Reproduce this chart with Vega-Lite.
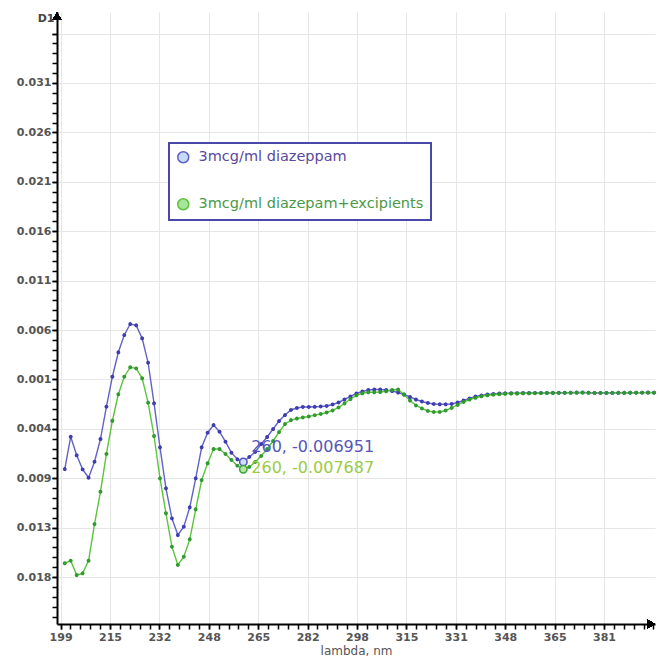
{
"$schema": "https://vega.github.io/schema/vega-lite/v6.json",
"width": 598,
"height": 612,
"autosize": {"type": "none"},
"padding": {"left": 57, "top": 12, "right": 6, "bottom": 37},
"background": "white",
"config": {"view": {"stroke": null}, "font": "DejaVu Sans"},
"datasets": {
"notes": [
{"lambda": 260, "D1": -0.006951, "series": "3mcg/ml diazeppam", "label": "260, -0.006951"},
{"lambda": 260, "D1": -0.007687, "series": "3mcg/ml diazepam+excipients", "label": "260, -0.007687"}
],
"spectra": [
{"lambda":200,"D1":-0.00766,"series":"3mcg/ml diazeppam"},
{"lambda":202,"D1":-0.00442,"series":"3mcg/ml diazeppam"},
{"lambda":204,"D1":-0.00628,"series":"3mcg/ml diazeppam"},
{"lambda":206,"D1":-0.00769,"series":"3mcg/ml diazeppam"},
{"lambda":208,"D1":-0.00853,"series":"3mcg/ml diazeppam"},
{"lambda":210,"D1":-0.00692,"series":"3mcg/ml diazeppam"},
{"lambda":212,"D1":-0.00465,"series":"3mcg/ml diazeppam"},
{"lambda":214,"D1":-0.00141,"series":"3mcg/ml diazeppam"},
{"lambda":216,"D1":0.00159,"series":"3mcg/ml diazeppam"},
{"lambda":218,"D1":0.00404,"series":"3mcg/ml diazeppam"},
{"lambda":220,"D1":0.00577,"series":"3mcg/ml diazeppam"},
{"lambda":222,"D1":0.00687,"series":"3mcg/ml diazeppam"},
{"lambda":224,"D1":0.00674,"series":"3mcg/ml diazeppam"},
{"lambda":226,"D1":0.00544,"series":"3mcg/ml diazeppam"},
{"lambda":228,"D1":0.00300,"series":"3mcg/ml diazeppam"},
{"lambda":230,"D1":-0.00107,"series":"3mcg/ml diazeppam"},
{"lambda":232,"D1":-0.00548,"series":"3mcg/ml diazeppam"},
{"lambda":234,"D1":-0.00959,"series":"3mcg/ml diazeppam"},
{"lambda":236,"D1":-0.01260,"series":"3mcg/ml diazeppam"},
{"lambda":238,"D1":-0.01427,"series":"3mcg/ml diazeppam"},
{"lambda":240,"D1":-0.01344,"series":"3mcg/ml diazeppam"},
{"lambda":242,"D1":-0.01149,"series":"3mcg/ml diazeppam"},
{"lambda":244,"D1":-0.00859,"series":"3mcg/ml diazeppam"},
{"lambda":246,"D1":-0.00548,"series":"3mcg/ml diazeppam"},
{"lambda":248,"D1":-0.00402,"series":"3mcg/ml diazeppam"},
{"lambda":250,"D1":-0.00325,"series":"3mcg/ml diazeppam"},
{"lambda":252,"D1":-0.00392,"series":"3mcg/ml diazeppam"},
{"lambda":254,"D1":-0.00492,"series":"3mcg/ml diazeppam"},
{"lambda":256,"D1":-0.00602,"series":"3mcg/ml diazeppam"},
{"lambda":258,"D1":-0.00668,"series":"3mcg/ml diazeppam"},
{"lambda":260,"D1":-0.006951,"series":"3mcg/ml diazeppam"},
{"lambda":262,"D1":-0.00645,"series":"3mcg/ml diazeppam"},
{"lambda":264,"D1":-0.00595,"series":"3mcg/ml diazeppam"},
{"lambda":266,"D1":-0.00515,"series":"3mcg/ml diazeppam"},
{"lambda":268,"D1":-0.00445,"series":"3mcg/ml diazeppam"},
{"lambda":270,"D1":-0.00365,"series":"3mcg/ml diazeppam"},
{"lambda":272,"D1":-0.00285,"series":"3mcg/ml diazeppam"},
{"lambda":274,"D1":-0.00225,"series":"3mcg/ml diazeppam"},
{"lambda":276,"D1":-0.00174,"series":"3mcg/ml diazeppam"},
{"lambda":278,"D1":-0.00154,"series":"3mcg/ml diazeppam"},
{"lambda":280,"D1":-0.00144,"series":"3mcg/ml diazeppam"},
{"lambda":282,"D1":-0.00144,"series":"3mcg/ml diazeppam"},
{"lambda":284,"D1":-0.00142,"series":"3mcg/ml diazeppam"},
{"lambda":286,"D1":-0.00139,"series":"3mcg/ml diazeppam"},
{"lambda":288,"D1":-0.00134,"series":"3mcg/ml diazeppam"},
{"lambda":290,"D1":-0.00119,"series":"3mcg/ml diazeppam"},
{"lambda":292,"D1":-0.00099,"series":"3mcg/ml diazeppam"},
{"lambda":294,"D1":-0.00069,"series":"3mcg/ml diazeppam"},
{"lambda":296,"D1":-0.00039,"series":"3mcg/ml diazeppam"},
{"lambda":298,"D1":-0.00009,"series":"3mcg/ml diazeppam"},
{"lambda":300,"D1":0.00011,"series":"3mcg/ml diazeppam"},
{"lambda":302,"D1":0.00026,"series":"3mcg/ml diazeppam"},
{"lambda":304,"D1":0.00031,"series":"3mcg/ml diazeppam"},
{"lambda":306,"D1":0.00031,"series":"3mcg/ml diazeppam"},
{"lambda":308,"D1":0.00026,"series":"3mcg/ml diazeppam"},
{"lambda":310,"D1":0.00016,"series":"3mcg/ml diazeppam"},
{"lambda":312,"D1":0.00001,"series":"3mcg/ml diazeppam"},
{"lambda":314,"D1":-0.00019,"series":"3mcg/ml diazeppam"},
{"lambda":316,"D1":-0.00044,"series":"3mcg/ml diazeppam"},
{"lambda":318,"D1":-0.00069,"series":"3mcg/ml diazeppam"},
{"lambda":320,"D1":-0.00089,"series":"3mcg/ml diazeppam"},
{"lambda":322,"D1":-0.00104,"series":"3mcg/ml diazeppam"},
{"lambda":324,"D1":-0.00114,"series":"3mcg/ml diazeppam"},
{"lambda":326,"D1":-0.00117,"series":"3mcg/ml diazeppam"},
{"lambda":328,"D1":-0.00117,"series":"3mcg/ml diazeppam"},
{"lambda":330,"D1":-0.00114,"series":"3mcg/ml diazeppam"},
{"lambda":332,"D1":-0.00099,"series":"3mcg/ml diazeppam"},
{"lambda":334,"D1":-0.00079,"series":"3mcg/ml diazeppam"},
{"lambda":336,"D1":-0.00059,"series":"3mcg/ml diazeppam"},
{"lambda":338,"D1":-0.00039,"series":"3mcg/ml diazeppam"},
{"lambda":340,"D1":-0.00029,"series":"3mcg/ml diazeppam"},
{"lambda":342,"D1":-0.00019,"series":"3mcg/ml diazeppam"},
{"lambda":344,"D1":-0.00014,"series":"3mcg/ml diazeppam"},
{"lambda":346,"D1":-0.00009,"series":"3mcg/ml diazeppam"},
{"lambda":348,"D1":-0.00007,"series":"3mcg/ml diazeppam"},
{"lambda":350,"D1":-0.00006,"series":"3mcg/ml diazeppam"},
{"lambda":352,"D1":-0.00005,"series":"3mcg/ml diazeppam"},
{"lambda":354,"D1":-0.00004,"series":"3mcg/ml diazeppam"},
{"lambda":356,"D1":-0.00004,"series":"3mcg/ml diazeppam"},
{"lambda":358,"D1":-0.00003,"series":"3mcg/ml diazeppam"},
{"lambda":360,"D1":-0.00003,"series":"3mcg/ml diazeppam"},
{"lambda":362,"D1":-0.00003,"series":"3mcg/ml diazeppam"},
{"lambda":364,"D1":-0.00002,"series":"3mcg/ml diazeppam"},
{"lambda":366,"D1":-0.00002,"series":"3mcg/ml diazeppam"},
{"lambda":368,"D1":-0.00001,"series":"3mcg/ml diazeppam"},
{"lambda":370,"D1":0.00000,"series":"3mcg/ml diazeppam"},
{"lambda":372,"D1":0.00001,"series":"3mcg/ml diazeppam"},
{"lambda":374,"D1":0.00002,"series":"3mcg/ml diazeppam"},
{"lambda":376,"D1":-0.00001,"series":"3mcg/ml diazeppam"},
{"lambda":378,"D1":-0.00003,"series":"3mcg/ml diazeppam"},
{"lambda":380,"D1":-0.00003,"series":"3mcg/ml diazeppam"},
{"lambda":382,"D1":-0.00003,"series":"3mcg/ml diazeppam"},
{"lambda":384,"D1":-0.00003,"series":"3mcg/ml diazeppam"},
{"lambda":386,"D1":-0.00002,"series":"3mcg/ml diazeppam"},
{"lambda":388,"D1":-0.00002,"series":"3mcg/ml diazeppam"},
{"lambda":390,"D1":-0.00001,"series":"3mcg/ml diazeppam"},
{"lambda":392,"D1":-0.00001,"series":"3mcg/ml diazeppam"},
{"lambda":394,"D1":0.00000,"series":"3mcg/ml diazeppam"},
{"lambda":396,"D1":0.00001,"series":"3mcg/ml diazeppam"},
{"lambda":398,"D1":0.00000,"series":"3mcg/ml diazeppam"},
{"lambda":200,"D1":-0.01710,"series":"3mcg/ml diazepam+excipients"},
{"lambda":202,"D1":-0.01684,"series":"3mcg/ml diazepam+excipients"},
{"lambda":204,"D1":-0.01828,"series":"3mcg/ml diazepam+excipients"},
{"lambda":206,"D1":-0.01811,"series":"3mcg/ml diazepam+excipients"},
{"lambda":208,"D1":-0.01684,"series":"3mcg/ml diazepam+excipients"},
{"lambda":210,"D1":-0.01317,"series":"3mcg/ml diazepam+excipients"},
{"lambda":212,"D1":-0.00993,"series":"3mcg/ml diazepam+excipients"},
{"lambda":214,"D1":-0.00615,"series":"3mcg/ml diazepam+excipients"},
{"lambda":216,"D1":-0.00282,"series":"3mcg/ml diazepam+excipients"},
{"lambda":218,"D1":-0.00017,"series":"3mcg/ml diazepam+excipients"},
{"lambda":220,"D1":0.00159,"series":"3mcg/ml diazepam+excipients"},
{"lambda":222,"D1":0.00254,"series":"3mcg/ml diazepam+excipients"},
{"lambda":224,"D1":0.00243,"series":"3mcg/ml diazepam+excipients"},
{"lambda":226,"D1":0.00143,"series":"3mcg/ml diazepam+excipients"},
{"lambda":228,"D1":-0.00101,"series":"3mcg/ml diazepam+excipients"},
{"lambda":230,"D1":-0.00435,"series":"3mcg/ml diazepam+excipients"},
{"lambda":232,"D1":-0.00859,"series":"3mcg/ml diazepam+excipients"},
{"lambda":234,"D1":-0.01209,"series":"3mcg/ml diazepam+excipients"},
{"lambda":236,"D1":-0.01544,"series":"3mcg/ml diazepam+excipients"},
{"lambda":238,"D1":-0.01727,"series":"3mcg/ml diazepam+excipients"},
{"lambda":240,"D1":-0.01644,"series":"3mcg/ml diazepam+excipients"},
{"lambda":242,"D1":-0.01470,"series":"3mcg/ml diazepam+excipients"},
{"lambda":244,"D1":-0.01169,"series":"3mcg/ml diazepam+excipients"},
{"lambda":246,"D1":-0.00876,"series":"3mcg/ml diazepam+excipients"},
{"lambda":248,"D1":-0.00708,"series":"3mcg/ml diazepam+excipients"},
{"lambda":250,"D1":-0.00565,"series":"3mcg/ml diazepam+excipients"},
{"lambda":252,"D1":-0.00565,"series":"3mcg/ml diazepam+excipients"},
{"lambda":254,"D1":-0.00615,"series":"3mcg/ml diazepam+excipients"},
{"lambda":256,"D1":-0.00675,"series":"3mcg/ml diazepam+excipients"},
{"lambda":258,"D1":-0.00732,"series":"3mcg/ml diazepam+excipients"},
{"lambda":260,"D1":-0.007687,"series":"3mcg/ml diazepam+excipients"},
{"lambda":262,"D1":-0.00745,"series":"3mcg/ml diazepam+excipients"},
{"lambda":264,"D1":-0.00695,"series":"3mcg/ml diazepam+excipients"},
{"lambda":266,"D1":-0.00635,"series":"3mcg/ml diazepam+excipients"},
{"lambda":268,"D1":-0.00565,"series":"3mcg/ml diazepam+excipients"},
{"lambda":270,"D1":-0.00485,"series":"3mcg/ml diazepam+excipients"},
{"lambda":272,"D1":-0.00395,"series":"3mcg/ml diazepam+excipients"},
{"lambda":274,"D1":-0.00315,"series":"3mcg/ml diazepam+excipients"},
{"lambda":276,"D1":-0.00275,"series":"3mcg/ml diazepam+excipients"},
{"lambda":278,"D1":-0.00260,"series":"3mcg/ml diazepam+excipients"},
{"lambda":280,"D1":-0.00249,"series":"3mcg/ml diazepam+excipients"},
{"lambda":282,"D1":-0.00239,"series":"3mcg/ml diazepam+excipients"},
{"lambda":284,"D1":-0.00226,"series":"3mcg/ml diazepam+excipients"},
{"lambda":286,"D1":-0.00214,"series":"3mcg/ml diazepam+excipients"},
{"lambda":288,"D1":-0.00199,"series":"3mcg/ml diazepam+excipients"},
{"lambda":290,"D1":-0.00179,"series":"3mcg/ml diazepam+excipients"},
{"lambda":292,"D1":-0.00149,"series":"3mcg/ml diazepam+excipients"},
{"lambda":294,"D1":-0.00109,"series":"3mcg/ml diazepam+excipients"},
{"lambda":296,"D1":-0.00064,"series":"3mcg/ml diazepam+excipients"},
{"lambda":298,"D1":-0.00027,"series":"3mcg/ml diazepam+excipients"},
{"lambda":300,"D1":-0.00007,"series":"3mcg/ml diazepam+excipients"},
{"lambda":302,"D1":0.00003,"series":"3mcg/ml diazepam+excipients"},
{"lambda":304,"D1":0.00003,"series":"3mcg/ml diazepam+excipients"},
{"lambda":306,"D1":0.00006,"series":"3mcg/ml diazepam+excipients"},
{"lambda":308,"D1":0.00013,"series":"3mcg/ml diazepam+excipients"},
{"lambda":310,"D1":0.00026,"series":"3mcg/ml diazepam+excipients"},
{"lambda":312,"D1":0.00031,"series":"3mcg/ml diazepam+excipients"},
{"lambda":314,"D1":-0.00019,"series":"3mcg/ml diazepam+excipients"},
{"lambda":316,"D1":-0.00079,"series":"3mcg/ml diazepam+excipients"},
{"lambda":318,"D1":-0.00129,"series":"3mcg/ml diazepam+excipients"},
{"lambda":320,"D1":-0.00159,"series":"3mcg/ml diazepam+excipients"},
{"lambda":322,"D1":-0.00184,"series":"3mcg/ml diazepam+excipients"},
{"lambda":324,"D1":-0.00194,"series":"3mcg/ml diazepam+excipients"},
{"lambda":326,"D1":-0.00194,"series":"3mcg/ml diazepam+excipients"},
{"lambda":328,"D1":-0.00179,"series":"3mcg/ml diazepam+excipients"},
{"lambda":330,"D1":-0.00154,"series":"3mcg/ml diazepam+excipients"},
{"lambda":332,"D1":-0.00124,"series":"3mcg/ml diazepam+excipients"},
{"lambda":334,"D1":-0.00094,"series":"3mcg/ml diazepam+excipients"},
{"lambda":336,"D1":-0.00069,"series":"3mcg/ml diazepam+excipients"},
{"lambda":338,"D1":-0.00052,"series":"3mcg/ml diazepam+excipients"},
{"lambda":340,"D1":-0.00037,"series":"3mcg/ml diazepam+excipients"},
{"lambda":342,"D1":-0.00027,"series":"3mcg/ml diazepam+excipients"},
{"lambda":344,"D1":-0.00021,"series":"3mcg/ml diazepam+excipients"},
{"lambda":346,"D1":-0.00016,"series":"3mcg/ml diazepam+excipients"},
{"lambda":348,"D1":-0.00012,"series":"3mcg/ml diazepam+excipients"},
{"lambda":350,"D1":-0.00010,"series":"3mcg/ml diazepam+excipients"},
{"lambda":352,"D1":-0.00009,"series":"3mcg/ml diazepam+excipients"},
{"lambda":354,"D1":-0.00008,"series":"3mcg/ml diazepam+excipients"},
{"lambda":356,"D1":-0.00007,"series":"3mcg/ml diazepam+excipients"},
{"lambda":358,"D1":-0.00006,"series":"3mcg/ml diazepam+excipients"},
{"lambda":360,"D1":-0.00005,"series":"3mcg/ml diazepam+excipients"},
{"lambda":362,"D1":-0.00004,"series":"3mcg/ml diazepam+excipients"},
{"lambda":364,"D1":-0.00004,"series":"3mcg/ml diazepam+excipients"},
{"lambda":366,"D1":-0.00003,"series":"3mcg/ml diazepam+excipients"},
{"lambda":368,"D1":-0.00003,"series":"3mcg/ml diazepam+excipients"},
{"lambda":370,"D1":-0.00002,"series":"3mcg/ml diazepam+excipients"},
{"lambda":372,"D1":-0.00001,"series":"3mcg/ml diazepam+excipients"},
{"lambda":374,"D1":-0.00001,"series":"3mcg/ml diazepam+excipients"},
{"lambda":376,"D1":-0.00002,"series":"3mcg/ml diazepam+excipients"},
{"lambda":378,"D1":-0.00003,"series":"3mcg/ml diazepam+excipients"},
{"lambda":380,"D1":-0.00003,"series":"3mcg/ml diazepam+excipients"},
{"lambda":382,"D1":-0.00003,"series":"3mcg/ml diazepam+excipients"},
{"lambda":384,"D1":-0.00003,"series":"3mcg/ml diazepam+excipients"},
{"lambda":386,"D1":-0.00002,"series":"3mcg/ml diazepam+excipients"},
{"lambda":388,"D1":-0.00002,"series":"3mcg/ml diazepam+excipients"},
{"lambda":390,"D1":-0.00001,"series":"3mcg/ml diazepam+excipients"},
{"lambda":392,"D1":-0.00001,"series":"3mcg/ml diazepam+excipients"},
{"lambda":394,"D1":0.00000,"series":"3mcg/ml diazepam+excipients"},
{"lambda":396,"D1":0.00000,"series":"3mcg/ml diazepam+excipients"},
{"lambda":398,"D1":-0.00001,"series":"3mcg/ml diazepam+excipients"}
]
},
"data": {"name": "spectra"},
"layer": [
{
"mark": {"type": "line", "strokeWidth": 1.4},
"encoding": {
"x": {"field": "lambda", "type": "quantitative", "scale": {"domain": [197.39, 398.33], "nice": false, "zero": false},
"axis": {"orient": "bottom", "values": [198.6, 215.2, 231.8, 248.4, 265, 281.6, 298.2, 314.8, 331.4, 348, 364.6, 381.2], "format": ".0f", "labelFlush": false, "labelOverlap": false, "grid": true, "gridColor": "#e6e6e6", "gridWidth": 1, "domainColor": "#000000", "domainWidth": 2, "tickColor": "#000000", "tickWidth": 1.5, "tickSize": 5, "labelFont": "DejaVu Sans", "labelFontSize": 11, "labelFontWeight": "bold", "labelColor": "#555555", "labelPadding": 2, "title": "lambda, nm", "titleFont": "DejaVu Sans", "titleFontSize": 12, "titleFontWeight": "normal", "titleColor": "#555555", "titlePadding": 3}},
"y": {"field": "D1", "type": "quantitative", "scale": {"domain": [-0.023186, 0.038136], "nice": false, "zero": false},
"axis": {"orient": "left", "values": [0.035972, 0.031022, 0.026072, 0.021122, 0.016172, 0.011222, 0.006272, 0.001322, -0.003628, -0.008578, -0.013528, -0.018478], "labelExpr": "['','0.031','0.026','0.021','0.016','0.011','0.006','0.001','0.004','0.009','0.013','0.018'][round((0.035972 - datum.value) / 0.00495)]", "labelOverlap": false, "labelFlush": false, "grid": true, "gridColor": "#e6e6e6", "gridWidth": 1, "domainColor": "#000000", "domainWidth": 2, "tickColor": "#000000", "tickWidth": 1.5, "tickSize": 5, "labelFont": "DejaVu Sans", "labelFontSize": 11, "labelFontWeight": "bold", "labelColor": "#555555", "labelPadding": 1, "title": "D1", "titleAngle": 0, "titleX": -3, "titleY": 6, "titleAlign": "right", "titleBaseline": "middle", "titleFont": "DejaVu Sans", "titleFontSize": 11, "titleFontWeight": "bold", "titleColor": "#444444"}},
"color": {"field": "series", "type": "nominal",
"scale": {"domain": ["3mcg/ml diazeppam", "3mcg/ml diazepam+excipients"], "range": ["#6262c8", "#5cc43c"]},
"legend": {"orient": "none", "legendX": 112, "legendY": 131, "title": null, "symbolType": "circle", "symbolSize": 120, "symbolStrokeWidth": 1.5, "labelFont": "DejaVu Sans", "labelFontSize": 14.5, "labelLimit": 400, "rowPadding": 29, "padding": 7, "labelOffset": 8, "strokeColor": "#4848a8", "fillColor": "#ffffff", "cornerRadius": 0,
"encode": {
"legend": {"update": {"strokeWidth": {"value": 2}}},
"symbols": {"update": {"fill": {"signal": "datum.value === '3mcg/ml diazeppam' ? '#c6dcf4' : '#a8e49a'"}, "fillOpacity": {"value": 1}, "stroke": {"signal": "datum.value === '3mcg/ml diazeppam' ? '#5a5ac0' : '#4aaa40'"}, "opacity": {"value": 1}}},
"labels": {"update": {"fill": {"signal": "datum.value === '3mcg/ml diazeppam' ? '#5a4a9c' : '#4a9a48'"}}}
}}}
}
},
{
"mark": {"type": "point", "filled": false, "size": 3, "strokeWidth": 2.2, "opacity": 1},
"encoding": {
"x": {"field": "lambda", "type": "quantitative", "scale": {"domain": [197.39, 398.33], "nice": false, "zero": false},
"axis": {"orient": "bottom", "values": [198.6, 201.92, 205.24, 208.56, 211.88, 215.2, 218.52, 221.84, 225.16, 228.48, 231.8, 235.12, 238.44, 241.76, 245.08, 248.4, 251.72, 255.04, 258.36, 261.68, 265.0, 268.32, 271.64, 274.96, 278.28, 281.6, 284.92, 288.24, 291.56, 294.88, 298.2, 301.52, 304.84, 308.16, 311.48, 314.8, 318.12, 321.44, 324.76, 328.08, 331.4, 334.72, 338.04, 341.36, 344.68, 348.0, 351.32, 354.64, 357.96, 361.28, 364.6, 367.92, 371.24, 374.56, 377.88, 381.2, 384.52, 387.84, 391.16, 394.48, 397.8], "labels": false, "grid": false, "domain": false, "tickColor": "#000000", "tickWidth": 1.5, "tickSize": 5, "title": null}},
"y": {"field": "D1", "type": "quantitative", "scale": {"domain": [-0.023186, 0.038136], "nice": false, "zero": false},
"axis": {"orient": "left", "values": [0.035972, 0.034982, 0.033992, 0.033002, 0.032012, 0.031022, 0.030032, 0.029042, 0.028052, 0.027062, 0.026072, 0.025082, 0.024092, 0.023102, 0.022112, 0.021122, 0.020132, 0.019142, 0.018152, 0.017162, 0.016172, 0.015182, 0.014192, 0.013202, 0.012212, 0.011222, 0.010232, 0.009242, 0.008252, 0.007262, 0.006272, 0.005282, 0.004292, 0.003302, 0.002312, 0.001322, 0.000332, -0.000658, -0.001648, -0.002638, -0.003628, -0.004618, -0.005608, -0.006598, -0.007588, -0.008578, -0.009568, -0.010558, -0.011548, -0.012538, -0.013528, -0.014518, -0.015508, -0.016498, -0.017488, -0.018478, -0.019468, -0.020458, -0.021448, -0.022438], "labels": false, "grid": false, "domain": false, "tickColor": "#000000", "tickWidth": 1.5, "tickSize": 5, "title": null}},
"stroke": {"field": "series", "type": "nominal", "scale": {"domain": ["3mcg/ml diazeppam", "3mcg/ml diazepam+excipients"], "range": ["#3c3cb0", "#2e9a2e"]}, "legend": null}
}
},
{
"data": {"name": "notes"},
"transform": [{"filter": "datum.series === '3mcg/ml diazeppam'"}],
"mark": {"type": "point", "shape": "circle", "filled": true, "size": 55, "fill": "#cfe0f6", "stroke": "#5050c0", "strokeWidth": 1.5, "opacity": 1},
"encoding": {
"x": {"field": "lambda", "type": "quantitative", "axis": null},
"y": {"field": "D1", "type": "quantitative", "axis": null}
}
},
{
"data": {"name": "notes"},
"transform": [{"filter": "datum.series === '3mcg/ml diazepam+excipients'"}],
"mark": {"type": "point", "shape": "circle", "filled": true, "size": 55, "fill": "#b4e6a4", "stroke": "#3aa03a", "strokeWidth": 1.5, "opacity": 1},
"encoding": {
"x": {"field": "lambda", "type": "quantitative", "axis": null},
"y": {"field": "D1", "type": "quantitative", "axis": null}
}
},
{
"data": {"name": "notes"},
"transform": [{"filter": "datum.series === '3mcg/ml diazeppam'"}],
"mark": {"type": "text", "align": "left", "baseline": "middle", "dx": 8, "dy": -15, "font": "DejaVu Sans", "fontSize": 16, "color": "#5656b6"},
"encoding": {
"x": {"field": "lambda", "type": "quantitative", "axis": null},
"y": {"field": "D1", "type": "quantitative", "axis": null},
"text": {"field": "label"}
}
},
{
"data": {"name": "notes"},
"transform": [{"filter": "datum.series === '3mcg/ml diazepam+excipients'"}],
"mark": {"type": "text", "align": "left", "baseline": "middle", "dx": 8, "dy": -1, "font": "DejaVu Sans", "fontSize": 16, "color": "#9acc44"},
"encoding": {
"x": {"field": "lambda", "type": "quantitative", "axis": null},
"y": {"field": "D1", "type": "quantitative", "axis": null},
"text": {"field": "label"}
}
},
{
"mark": {"type": "point", "shape": "triangle-right", "filled": true, "size": 70, "color": "#000000", "opacity": 1, "xOffset": -4},
"encoding": {
"x": {"datum": 398.33, "type": "quantitative", "axis": null},
"y": {"datum": -0.023186, "type": "quantitative", "axis": null}
}
},
{
"mark": {"type": "point", "shape": "triangle-up", "filled": true, "size": 70, "color": "#000000", "opacity": 1, "yOffset": 4},
"encoding": {
"x": {"datum": 197.39, "type": "quantitative", "axis": null},
"y": {"datum": 0.038136, "type": "quantitative", "axis": null}
}
}
],
"resolve": {"axis": {"x": "independent", "y": "independent"}}
}
